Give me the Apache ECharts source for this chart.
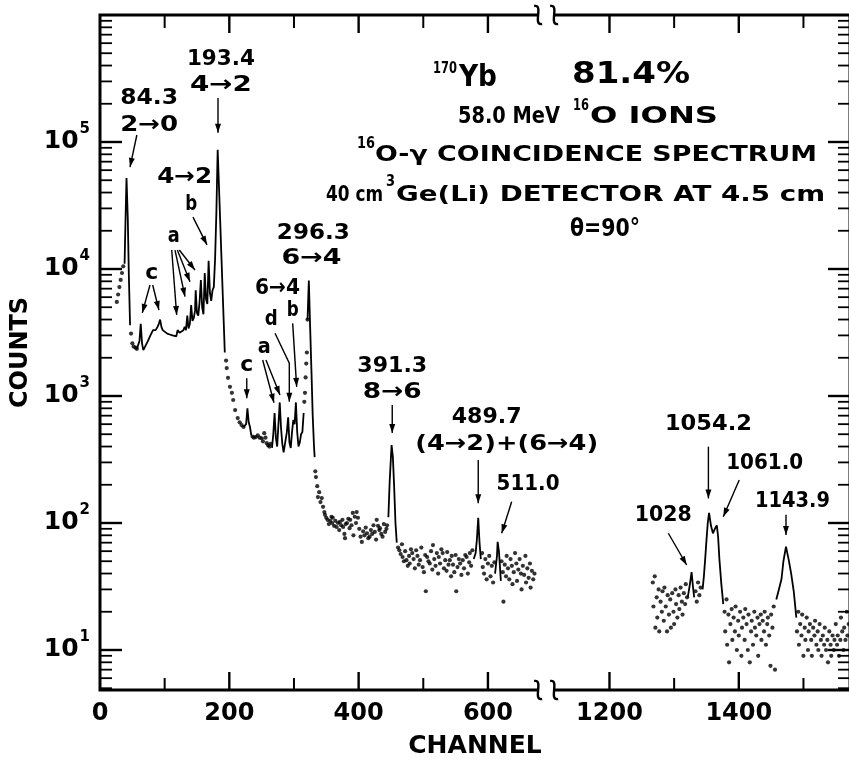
<!DOCTYPE html>
<html><head><meta charset="utf-8">
<script src="https://cdn.jsdelivr.net/npm/echarts@6/dist/echarts.min.js"></script>
<style>html,body{margin:0;padding:0;background:#fff}#c{width:849px;height:761px}</style>
</head><body><div id="c"></div>
<script>
// ---------------- data (channel, counts) ----------------
const dotsRise84 = [[26,5500],[28,6300],[30,7200],[32,8200],[34,9300],[36,10500]];
const peak84 = [[38,11000],[39.5,25000],[41,52000],[43,25000],[44.5,9500],[46.5,3600]];
const dotsFall84 = [[48,3100],[50,2600],[52,2450],[55,2400],[57,2350]];
const cont193 = [[57,2350],[59,2300],[61,2700],[63,3700],[65,2600],[67,2300],[70,2350],[74,2700],[78,3000],[82,3300],[86,3300],[89,3500],[91,3700],[93,4000],[95,3500],[97,3300],[100,3200],[104,3100],[108,3050],[112,3000],[115,2950],[118,2950],[120,3300],[123,3150],[126,3100],[129,3300],[131,3500],[133,3300],[135,4300],[137,3400],[139,3700],[141,5200],[143,3900],[145,4100],[147,4700],[148,6800],[150,4500],[152,4300],[154,5500],[156,8200],[158,5000],[160,4400],[162,9300],[164,5800],[166,5300],[168,11600],[170,6500],[172,5600],[174,6800],[176,7200],[178,12000],[180,28000],[182,87000],[184,45000],[186,23000],[188,11700],[190,6000],[192,3100],[193,2200]];
const dotsFall193 = [[195,1900],[196,1660],[198,1390],[201,1180],[204,1060],[206,930],[209,775],[213,670],[216,620],[219,590],[222,570]];
const peakC = [[222,570],[224,560],[226,600],[228,800],[230,620],[232,570],[234,490]];
const dotsValley = [[236,480],[238,470],[241,475],[244,490],[247,470],[250,465],[252,440],[254,510],[256,470],[258,425],[260,410],[262,400],[264,420]];
const peakA = [[266,390],[268,500],[270,735],[272,470],[274,400],[276,600],[278,890],[280,560],[282,420],[284,360],[286,355],[289,520],[291,680],[293,430],[295,390],[297,520],[299,650],[301,600],[303,890],[305,520],[307,400],[309,430],[311,500],[313,520],[315,735]];
const dotsRise296 = [[316,900],[317,1060],[318,1400],[319,1800],[320,2200],[321,4000]];
const peak296 = [[321,4000],[323,8100],[325,3500],[327,1600],[329,700],[331,400],[332,330]];
const dots330 = [[333,255],[334,230],[336,195],[337,160],[339,175],[341,146],[343,157],[345,134],[347,122],[348,116],[350,110],[352,106],[354,98],[356,104],[358,112],[359,100],[360,110],[362,95],[364,104],[366,93],[368,100],[370,88],[371,102],[373,96],[375,106],[376,93],[378,82],[379,76],[380,98],[382,100],[384,108],[386,91],[387,106],[389,96],[391,120],[392,80],[394,112],[396,100],[397,122],[399,110],[401,90],[403,78],[405,71],[407,86],[409,80],[411,92],[413,83],[415,76],[417,78],[419,88],[421,82],[423,96],[425,85],[427,74],[428,106],[430,95],[432,88],[433,91],[435,82],[437,78],[439,98],[441,85],[443,90],[444,96]];
const peak391 = [[446,111],[448,210],[450,330],[451,410],[453,330],[455,190],[457,100],[459,70]];
const dots460 = [[461,64],[463,61],[465,57],[467,68],[468,54],[470,50],[472,60],[474,51],[476,46],[478,55],[479,48],[481,62],[483,58],[485,52],[487,44],[489,61],[491,55],[493,47],[495,51],[497,64],[499,45],[501,41],[503,56],[504,29],[506,54],[508,50],[510,48],[512,60],[514,43],[515,67],[517,52],[519,46],[521,58],[523,40],[524,54],[526,48],[528,62],[530,58],[532,44],[534,51],[536,42],[537,59],[539,47],[541,51],[543,38],[544,55],[546,47],[548,41],[550,56],[551,29],[553,45],[555,52],[557,48],[559,39],[561,51],[563,44],[565,56],[567,54],[569,40],[571,49],[572,58],[574,46],[576,61]];
const peak489 = [[578,52],[581,58],[583,75],[585,110],[587,70],[589,52]];
const dots590 = [[591,58],[592,45],[594,40],[596,52],[598,36],[600,48],[602,55],[604,38],[606,46],[608,34],[610,49]];
const peak511 = [[611,40],[614,55],[615,71],[617,60],[620,35]];
const dots620 = [[621,50],[623,41],[624,24],[626,47],[628,38],[629,55],[631,44],[633,36],[635,52],[637,46],[638,33],[640,41],[642,58],[644,48],[645,35],[647,43],[649,52],[651,40],[652,30],[654,46],[656,39],[658,55],[659,34],[661,44],[663,37],[665,48],[666,31],[668,42],[670,36],[672,40]];
const dotsR1 = [[1267,34],[1268,22],[1270,38],[1271,15],[1273,26],[1274,18],[1276,30],[1277,14],[1279,24],[1281,20],[1282,29],[1284,17],[1285,31],[1287,22],[1289,14],[1290,27],[1292,19],[1294,25],[1295,15],[1297,28],[1299,20],[1300,16],[1302,30],[1303,23],[1305,18],[1307,27],[1308,21],[1310,31],[1312,24],[1313,19],[1315,28],[1317,23],[1318,33],[1320,26],[1333,29],[1335,24],[1337,34],[1339,27],[1341,31]];
const peak1028 = [[1321,26],[1324,32],[1327,41],[1329,32],[1331,26]];
const peak1054 = [[1344,30],[1346,38],[1348,52],[1350,73],[1352,100],[1354,120],[1357,95],[1360,83],[1363,90],[1366,96],[1368,78],[1370,52],[1373,33],[1376,23]];
const dotsR2 = [[1378,20],[1379,14],[1381,25],[1382,11],[1384,19],[1385,8],[1387,16],[1389,21],[1390,12],[1392,18],[1394,14],[1395,22],[1397,10],[1399,17],[1400,13],[1402,20],[1404,9],[1405,15],[1407,18],[1409,12],[1410,21],[1412,16],[1414,10],[1415,19],[1417,8],[1419,14],[1420,17],[1422,11],[1424,20],[1425,15],[1427,13],[1429,18],[1430,9],[1432,16],[1434,19],[1435,12],[1437,17],[1439,14],[1440,20],[1442,11],[1444,16],[1445,18],[1447,13],[1449,7.5],[1450,19],[1452,15],[1454,22],[1456,7]];
const peak1143 = [[1458,25],[1462,30],[1466,36],[1469,50],[1473,65],[1477,52],[1481,40],[1485,29],[1489,18]];
const dotsR3 = [[1490,14],[1492,20],[1493,11],[1495,16],[1497,13],[1498,19],[1500,9],[1502,15],[1503,12],[1505,18],[1507,10],[1508,14],[1510,16],[1512,12],[1513,9],[1515,15],[1517,13],[1518,17],[1520,11],[1522,14],[1523,10],[1525,16],[1527,12],[1528,9],[1530,13],[1532,11],[1533,15],[1535,10],[1537,12],[1538,8],[1540,14],[1542,11],[1543,9],[1545,13],[1547,10],[1548,12],[1550,16],[1552,11],[1553,13],[1555,9],[1557,12],[1558,18],[1560,14],[1562,10],[1563,15],[1565,12],[1567,20],[1568,13],[1570,16]];

// axis ticks / labels
const xLabelChannels = [0,200,400,600,1200,1400];
const xMajorTicks = [200,400,600,1200,1400];
const xMinorTicks = [100,300,500,1300,1500];
const yMajorTicks = [10,100,1000,10000,100000];
const yMinorMantissa = [2,3,4,5,6,7,8,9];
const yDecades = [1,10,100,1000,10000,100000];

// peak annotations: text centre at [channel, counts]
const peakLabels = [
 {text:'84.3', at:[76,220000], w:58},
 {text:'2→0', at:[76,136000], w:58},
 {text:'193.4', at:[187,447000], w:68},
 {text:'4→2', at:[187,279000], w:62},
 {text:'4→2', at:[131,52500], w:55},
 {text:'b', at:[141,32200], w:12},
 {text:'a', at:[114,18200], w:12},
 {text:'c', at:[80,9230], w:13},
 {text:'296.3', at:[330,19200], w:73},
 {text:'6→4', at:[327,12200], w:60},
 {text:'6→4', at:[274.5,7080], w:45},
 {text:'b', at:[298,4750], w:12},
 {text:'d', at:[265,4040], w:13},
 {text:'a', at:[254,2440], w:13},
 {text:'c', at:[227,1750], w:13},
 {text:'391.3', at:[452,1720], w:70},
 {text:'8→6', at:[452,1070], w:59},
 {text:'489.7', at:[598,678], w:70},
 {text:'(4→2)+(6→4)', at:[629,415], w:183},
 {text:'511.0', at:[662,203], w:63},
 {text:'1054.2', at:[1353,603], w:87},
 {text:'1061.0', at:[1440,295], w:77},
 {text:'1028', at:[1283,114], w:57},
 {text:'1143.9', at:[1483,147], w:75}
];
const peakArrows = [
 [[57,113500],[46.4,63500]],
 [[182.5,222000],[182.5,118000]],
 [[143.8,25600],[165.5,15500]],
 [[110.9,14100],[118.6,4350]],
 [[116,14100],[131.5,6050]],
 [[119.6,14100],[139.2,7940]],
 [[122.6,14100],[146.9,9820]],
 [[77.3,7480],[65.4,4510]],
 [[81.5,7480],[91.2,4750]],
 [[298,3730],[304.2,1180]],
 [[270.7,3120],[292.8,1810],[292.8,900]],
 [[251.6,1920],[269.1,885]],
 [[256.7,1920],[278.4,1020]],
 [[227,1380],[227,960]],
 [[452,850],[452,512]],
 [[585,313],[585,143]],
 [[636.7,147],[621.3,83]],
 [[1353,399],[1353,156]],
 [[1400.7,218],[1376,112]],
 [[1291,83],[1319.4,46.7]],
 [[1473,116],[1473,80.5]]
];
// figure heading (pixel layout)
const titleTexts = [
 {text:'170', x:433, y:69, s:16, w:24},
 {text:'Yb', x:459, y:78, s:30, w:38},
 {text:'81.4%', x:572, y:75, s:30, w:118},
 {text:'58.0 MeV', x:458, y:117, s:23, w:102},
 {text:'16', x:573, y:106, s:15, w:16},
 {text:'O IONS', x:590, y:117, s:23, w:128},
 {text:'16', x:357, y:144, s:15, w:18},
 {text:'O-γ COINCIDENCE SPECTRUM', x:375, y:155, s:22, w:442},
 {text:'40 cm', x:326, y:195, s:22, w:57},
 {text:'3', x:386, y:182, s:15, w:9},
 {text:'Ge(Li) DETECTOR AT 4.5 cm', x:396, y:195, s:22, w:429},
 {text:'θ=90°', x:570, y:230, s:24, w:70}
];

// ---------------- helpers ----------------
const FAMILY = '"DejaVu Sans", sans-serif';
const CH_SHIFT = 412;        // channels >= 1000 drawn shifted left (broken axis)
const BREAK_T = 690;         // axis-break position in drawn units
const Y_MIN = Math.pow(10, 0.685);
function tx(ch){ return ch >= 1000 ? ch - CH_SHIFT : ch; }
function fromT(t){ return t >= 700 ? t + CH_SHIFT : t; }
const toXY = arr => arr.map(p => [tx(p[0]), p[1]]);
const fontOf = size => 'bold ' + size + 'px ' + FAMILY;
const mctx = document.createElement('canvas').getContext('2d');
function measure(text, size){ mctx.font = fontOf(size); return mctx.measureText(text).width; }
const yMinorTicks = [];
yDecades.forEach(d => yMinorMantissa.forEach(m => { if (m*d >= Y_MIN && m*d < 1e6) yMinorTicks.push(m*d); }));

const lineSegs = [peak84, cont193, peakC, peakA, peak296, peak391, peak489, peak511, peak1028, peak1054, peak1143];
const dotSets = [dotsRise84, dotsFall84, dotsFall193, dotsValley, dotsRise296, dots330, dots460, dots590, dots620, dotsR1, dotsR2, dotsR3];

const chart = echarts.init(document.getElementById('c'));
chart.setOption({
  animation: false,
  backgroundColor: '#fff',
  grid: {left:100, top:15, width:750, height:675, show:true, borderColor:'#000', borderWidth:3, backgroundColor:'transparent', containLabel:false, outerBoundsMode:'none'},
  xAxis: {
    type:'value', min:0, max:1160,
    axisLine:{show:false}, axisTick:{show:false}, splitLine:{show:false},
    axisLabel:{customValues: xLabelChannels.map(tx), formatter: v => String(fromT(v)), fontSize:24, fontWeight:'bold', fontFamily:FAMILY, color:'#000', margin:12},
    name:'CHANNEL', nameLocation:'middle', nameGap:44,
    nameTextStyle:{fontSize:25, fontWeight:'bold', fontFamily:FAMILY, color:'#000'}
  },
  yAxis: {
    type:'log', logBase:10, min:Y_MIN, max:1e6,
    axisLine:{show:false}, axisTick:{show:false}, splitLine:{show:false}, minorTick:{show:false},
    axisLabel:{
      margin:10,
      formatter: v => { const l = Math.log10(v), e = Math.round(l); if (Math.abs(l-e) > 1e-6 || e < 1 || e > 5) return ''; return '{b|10}{s|' + e + '}'; },
      rich:{ b:{fontSize:25, fontWeight:'bold', fontFamily:FAMILY, color:'#000'}, s:{fontSize:15, fontWeight:'bold', fontFamily:FAMILY, color:'#000', padding:[0,0,26,1]} }
    },
    name:'COUNTS', nameLocation:'middle', nameGap:61,
    nameTextStyle:{fontSize:24, fontWeight:'bold', fontFamily:FAMILY, color:'#000'}
  },
  graphic: titleTexts.map(t => ({
    type:'text', x:t.x, y:t.y, scaleX: t.w / measure(t.text, t.s), silent:true,
    style:{text:t.text, font: fontOf(t.s), fill:'#000', textAlign:'left', textVerticalAlign:'middle'}
  })),
  series: [
    ...lineSegs.map(seg => ({type:'line', data: toXY(seg), showSymbol:false, silent:true, z:3,
      lineStyle:{color:'#000', width:1.8}, itemStyle:{color:'#000'}})),
    {type:'scatter', data: dotSets.flatMap(s => toXY(s)), symbolSize:4.2, silent:true, z:3, itemStyle:{color:'#000'}},
    {
      type:'custom', silent:true, z:10, clip:false, data:[[0,10]],
      renderItem: (params, api) => {
        const cs = params.coordSys;
        const L = cs.x, R = cs.x + cs.width, T = cs.y, B = cs.y + cs.height;
        const P = (ch, v) => api.coord([tx(ch), v]);
        const kids = [];
        const seg = (x1,y1,x2,y2,w) => kids.push({type:'line', shape:{x1,y1,x2,y2}, style:{stroke:'#000', lineWidth:w}});
        yMajorTicks.forEach(v => { const y = P(0, v)[1]; seg(L,y,L+22,y,2.4); seg(R,y,R-22,y,2.4); });
        yMinorTicks.forEach(v => { const y = P(0, v)[1]; seg(L,y,L+12,y,1.8); seg(R,y,R-12,y,1.8); });
        xMajorTicks.forEach(ch => { const x = P(ch, 10)[0]; seg(x,B,x,B-18,2.4); seg(x,T,x,T+18,2.4); });
        xMinorTicks.forEach(ch => { const x = P(ch, 10)[0]; seg(x,B,x,B-12,2); seg(x,T,x,T+13,2); });
        const xb = api.coord([BREAK_T, 10])[0];
        [T, B].forEach(yb => {
          kids.push({type:'rect', shape:{x:xb-8, y:yb-3, width:16, height:6}, style:{fill:'#fff'}});
          [xb-8, xb+8].forEach(cx => kids.push({type:'bezierCurve',
            shape:{x1:cx-4, y1:yb-9, cpx1:cx+6, cpy1:yb-11, cpx2:cx-6, cpy2:yb+11, x2:cx+4, y2:yb+9},
            style:{stroke:'#000', lineWidth:2.4, fill:null}}));
        });
        peakArrows.forEach(a => {
          const pts = a.map(p => P(p[0], p[1]));
          kids.push({type:'polyline', shape:{points:pts}, style:{stroke:'#000', lineWidth:1.4, fill:null}});
          const [x2,y2] = pts[pts.length-1], [x1,y1] = pts[pts.length-2];
          const ang = Math.atan2(y2-y1, x2-x1), len = 9, hw = 3;
          const bx = x2 - len*Math.cos(ang), by = y2 - len*Math.sin(ang);
          const nx = -Math.sin(ang)*hw, ny = Math.cos(ang)*hw;
          kids.push({type:'polygon', shape:{points:[[x2,y2],[bx+nx,by+ny],[bx-nx,by-ny]]}, style:{fill:'#000'}});
        });
        peakLabels.forEach(l => {
          const [x,y] = P(l.at[0], l.at[1]);
          const size = l.size || 22;
          kids.push({type:'text', x, y, scaleX: l.w / measure(l.text, size),
            style:{text:l.text, font: fontOf(size), fill:'#000', textAlign:'center', textVerticalAlign:'middle', align:'center', verticalAlign:'middle'}});
        });
        return {type:'group', children:kids};
      }
    }
  ]
});
</script></body></html>
